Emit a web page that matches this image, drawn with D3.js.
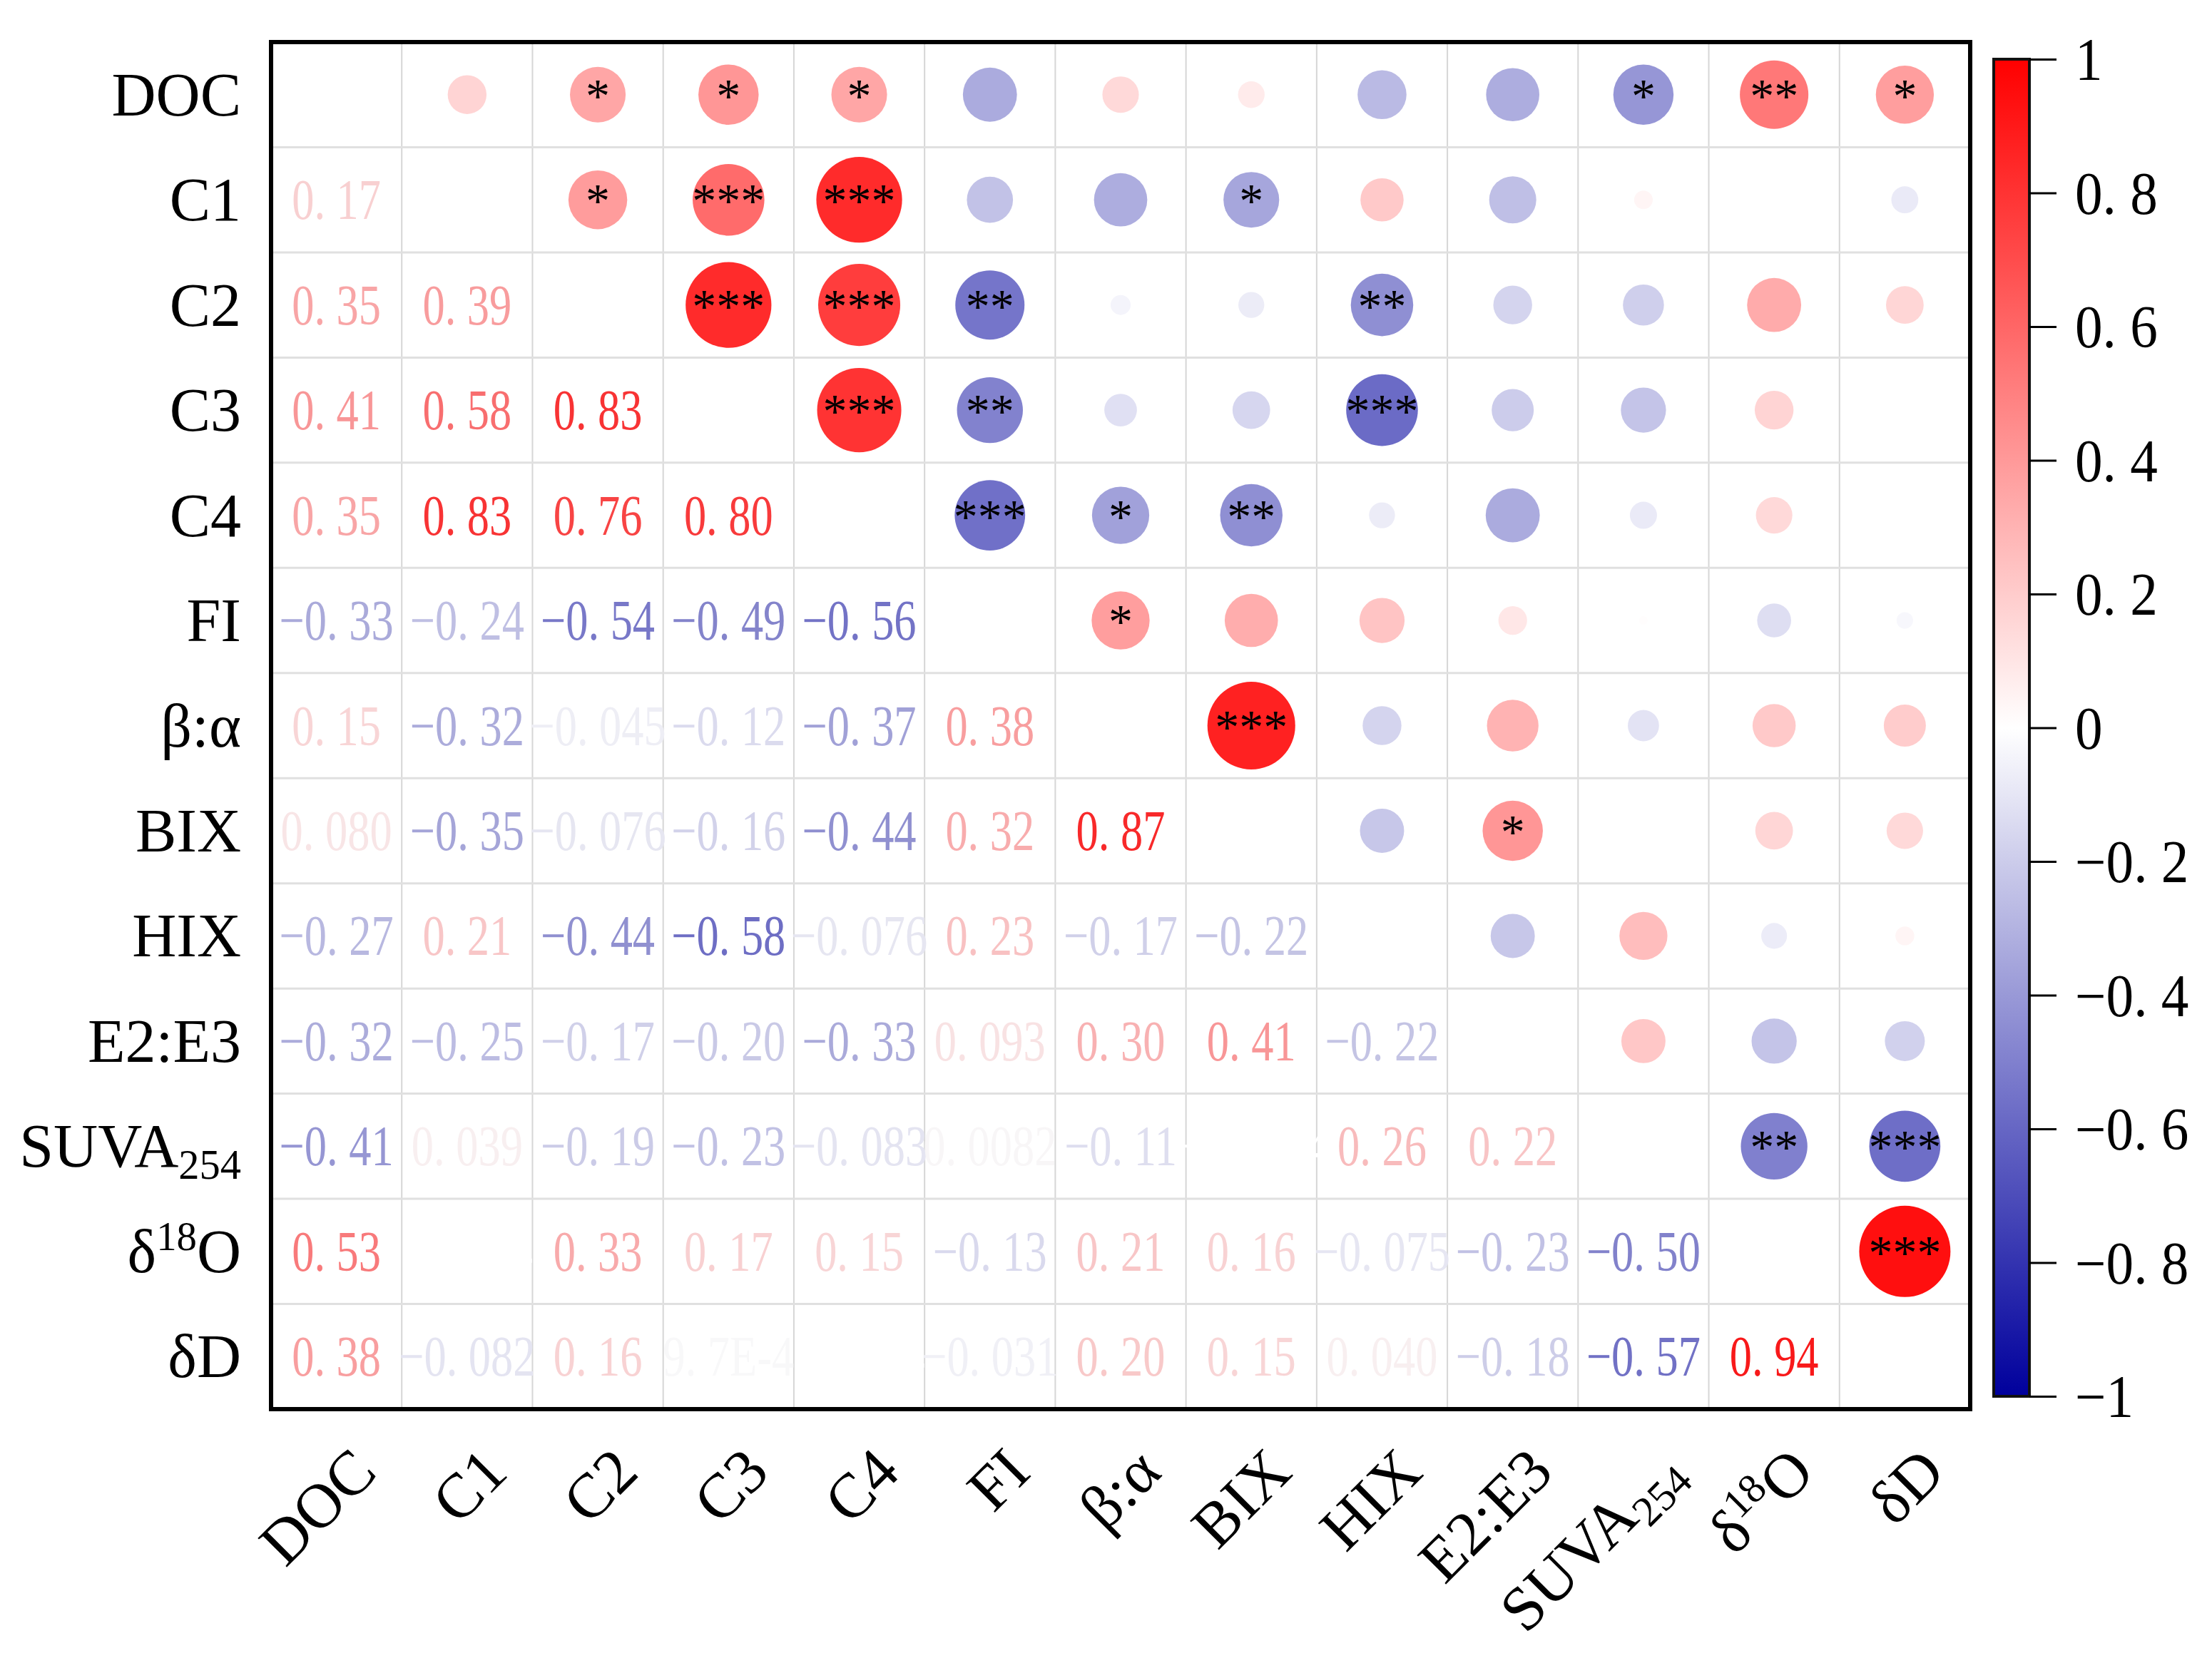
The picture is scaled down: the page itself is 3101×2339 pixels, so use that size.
<!DOCTYPE html>
<html>
<head>
<meta charset="utf-8">
<script src="https://cdn.jsdelivr.net/npm/d3@7"></script>
<style>
  body { margin: 0; background: #fff; }
  text { font-family: "Liberation Serif", "Times New Roman", serif; }
</style>
</head>
<body>
<div id="chart"></div>
<script>
// variable names ("_" = subscript, "^" = superscript)
let variables = ["DOC", "C1", "C2", "C3", "C4", "FI", "β:α", "BIX", "HIX", "E2:E3", "SUVA_254", "δ^18O", "δD"];

// lower triangle of the correlation matrix, row by row
let corrRows = [
  [],
  [0.17],
  [0.35, 0.39],
  [0.41, 0.58, 0.83],
  [0.35, 0.83, 0.76, 0.80],
  [-0.33, -0.24, -0.54, -0.49, -0.56],
  [0.15, -0.32, -0.045, -0.12, -0.37, 0.38],
  [0.080, -0.35, -0.076, -0.16, -0.44, 0.32, 0.87],
  [-0.27, 0.21, -0.44, -0.58, -0.076, 0.23, -0.17, -0.22],
  [-0.32, -0.25, -0.17, -0.20, -0.33, 0.093, 0.30, 0.41, -0.22],
  [-0.41, 0.039, -0.19, -0.23, -0.083, 0.0082, -0.11, -0.0003, 0.26, 0.22],
  [0.53, 0.0002, 0.33, 0.17, 0.15, -0.13, 0.21, 0.16, -0.075, -0.23, -0.50],
  [0.38, -0.082, 0.16, 0.00097, 0.0001, -0.031, 0.20, 0.15, 0.040, -0.18, -0.57, 0.94]
];

// significance marks, upper triangle, row i lists columns i+1 .. end
let starRows = [
  ["", "*", "*", "*", "", "", "", "", "", "*", "**", "*"],
  ["*", "***", "***", "", "", "*", "", "", "", "", ""],
  ["***", "***", "**", "", "", "**", "", "", "", ""],
  ["***", "**", "", "", "***", "", "", "", ""],
  ["***", "*", "**", "", "", "", "", ""],
  ["*", "", "", "", "", "", ""],
  ["***", "", "", "", "", ""],
  ["", "*", "", "", ""],
  ["", "", "", ""],
  ["", "", ""],
  ["**", "***"],
  ["***"],
  []
];

let colorTicks = [1, 0.8, 0.6, 0.4, 0.2, 0, -0.2, -0.4, -0.6, -0.8, -1];

let width = 3101;
let height = 2339;
let frame = {left: 380, right: 2762, top: 59, bottom: 1976};
let n = variables.length;

function corr(i, j) {
  return i > j ? corrRows[i][j] : corrRows[j][i];
}

function fmt(v) {
  let s;
  if (Math.abs(v) < 0.001) s = d3.format(".1e")(v).replace("e", "E").replace("E−", "E-");
  else s = d3.format(".2g")(v);
  return s.replace(".", ". ");
}

// write a label with sub/superscript parts into a text element
function writeLabel(sel, label) {
  let m = label.match(/^([^_^]*)([_^])?([0-9]*)(.*)$/);
  sel.append("tspan").text(m[1]);
  if (m[2] == "_") {
    sel.append("tspan").attr("font-size", "0.68em").attr("dy", "0.28em").text(m[3]);
  } else if (m[2] == "^") {
    sel.append("tspan").attr("font-size", "0.66em").attr("dy", "-0.55em").text(m[3]);
    sel.append("tspan").attr("dy", "0.36em").text(m[4]);
  }
}

let xScale = d3.scaleBand().domain(d3.range(n)).range([frame.left, frame.right]);
let yScale = d3.scaleBand().domain(d3.range(n)).range([frame.top, frame.bottom]);
let color = d3.scaleLinear().domain([-1, 0, 1]).range(["#00009c", "#ffffff", "#ff0000"]);
// numbers are drawn a touch darker than the scale so faint ones stay readable
let textColor = v => Math.abs(v) < 0.0005 ? color(v) : d3.interpolateRgb(color(v), "#9a9aa8")(0.07);
let rScale = d3.scaleSqrt().domain([0, 1]).range([0, 66]);
let cbScale = d3.scaleLinear().domain([-1, 1]).range([1958, 83]);

let svg = d3.select("#chart").append("svg")
  .attr("width", width).attr("height", height)
  .style("background", "#fff");

// grid
let grid = svg.append("g");
grid.selectAll(".vline").data(d3.range(1, n)).enter().append("line")
  .attr("x1", d => xScale(d)).attr("x2", d => xScale(d))
  .attr("y1", frame.top).attr("y2", frame.bottom)
  .attr("stroke", "#d6d6d6").attr("stroke-width", 2);
grid.selectAll(".hline").data(d3.range(1, n)).enter().append("line")
  .attr("x1", frame.left).attr("x2", frame.right)
  .attr("y1", d => yScale(d)).attr("y2", d => yScale(d))
  .attr("stroke", "#e0e0e0").attr("stroke-width", 3);

let cells = [];
for (let i = 0; i < n; i++) {
  for (let j = 0; j < n; j++) {
    if (i == j) continue;
    cells.push({i: i, j: j, v: corr(i, j), star: i < j ? starRows[i][j - i - 1] : ""});
  }
}
let upper = cells.filter(d => d.i < d.j);
let lower = cells.filter(d => d.i > d.j);
let bw = xScale.bandwidth(), bh = yScale.bandwidth();

svg.append("g").selectAll("circle").data(upper).enter().append("circle")
  .attr("cx", d => xScale(d.j) + bw / 2)
  .attr("cy", d => yScale(d.i) + bh / 2)
  .attr("r", d => rScale(Math.abs(d.v)))
  .attr("fill", d => color(d.v));

svg.append("g").selectAll("text").data(upper.filter(d => d.star)).enter().append("text")
  .attr("x", d => xScale(d.j) + bw / 2)
  .attr("y", d => yScale(d.i) + bh / 2 + 24)
  .attr("text-anchor", "middle")
  .attr("font-size", 68)
  .attr("fill", "#000")
  .text(d => d.star);

svg.append("g").selectAll("text").data(lower).enter().append("text")
  .attr("transform", d => `translate(${xScale(d.j) + bw / 2}, ${yScale(d.i) + bh / 2 + 27}) scale(0.78, 1)`)
  .attr("text-anchor", "middle")
  .attr("font-size", 80)
  .attr("fill", d => textColor(d.v))
  .text(d => fmt(d.v));

// frame
svg.append("rect")
  .attr("x", frame.left).attr("y", frame.top)
  .attr("width", frame.right - frame.left).attr("height", frame.bottom - frame.top)
  .attr("fill", "none").attr("stroke", "#000").attr("stroke-width", 6);

// row labels
svg.append("g").selectAll("text").data(variables).enter().append("text")
  .attr("x", 338)
  .attr("y", (d, i) => yScale(i) + bh / 2 + 29)
  .attr("text-anchor", "end")
  .attr("font-size", 86)
  .each(function (d) { writeLabel(d3.select(this), d); });

// column labels
svg.append("g").selectAll("text").data(variables).enter().append("text")
  .attr("transform", (d, i) => `translate(${xScale(i) + bw / 2 + 60}, ${frame.bottom + 92}) rotate(-45)`)
  .attr("text-anchor", "end")
  .attr("font-size", 88)
  .each(function (d) { writeLabel(d3.select(this), d); });

// colour bar
let defs = svg.append("defs");
let grad = defs.append("linearGradient").attr("id", "cbar")
  .attr("x1", 0).attr("x2", 0).attr("y1", 1).attr("y2", 0);
grad.selectAll("stop").data(d3.range(-1, 1.001, 0.1)).enter().append("stop")
  .attr("offset", d => (d + 1) / 2)
  .attr("stop-color", d => color(d));

let cbX = 2795, cbW = 50;
svg.append("rect")
  .attr("x", cbX).attr("y", cbScale(1))
  .attr("width", cbW).attr("height", cbScale(-1) - cbScale(1))
  .attr("fill", "url(#cbar)")
  .attr("stroke", "#111").attr("stroke-width", 4);

let cbAxis = svg.append("g")
  .attr("transform", `translate(${cbX + cbW}, 0)`)
  .call(d3.axisRight(cbScale).tickValues(colorTicks).tickSize(38).tickFormat(d => d3.format("")(d).replace(".", ". ")));
cbAxis.select(".domain").remove();
cbAxis.selectAll(".tick line").attr("stroke", "#000").attr("stroke-width", 3);
cbAxis.selectAll(".tick text")
  .attr("x", 64 / 0.92)
  .attr("dy", "0.34em")
  .attr("transform", "scale(0.92, 1)")
  .attr("font-size", 84)
  .attr("font-family", "Liberation Serif")
  .attr("fill", "#000");
</script>
</body>
</html>
